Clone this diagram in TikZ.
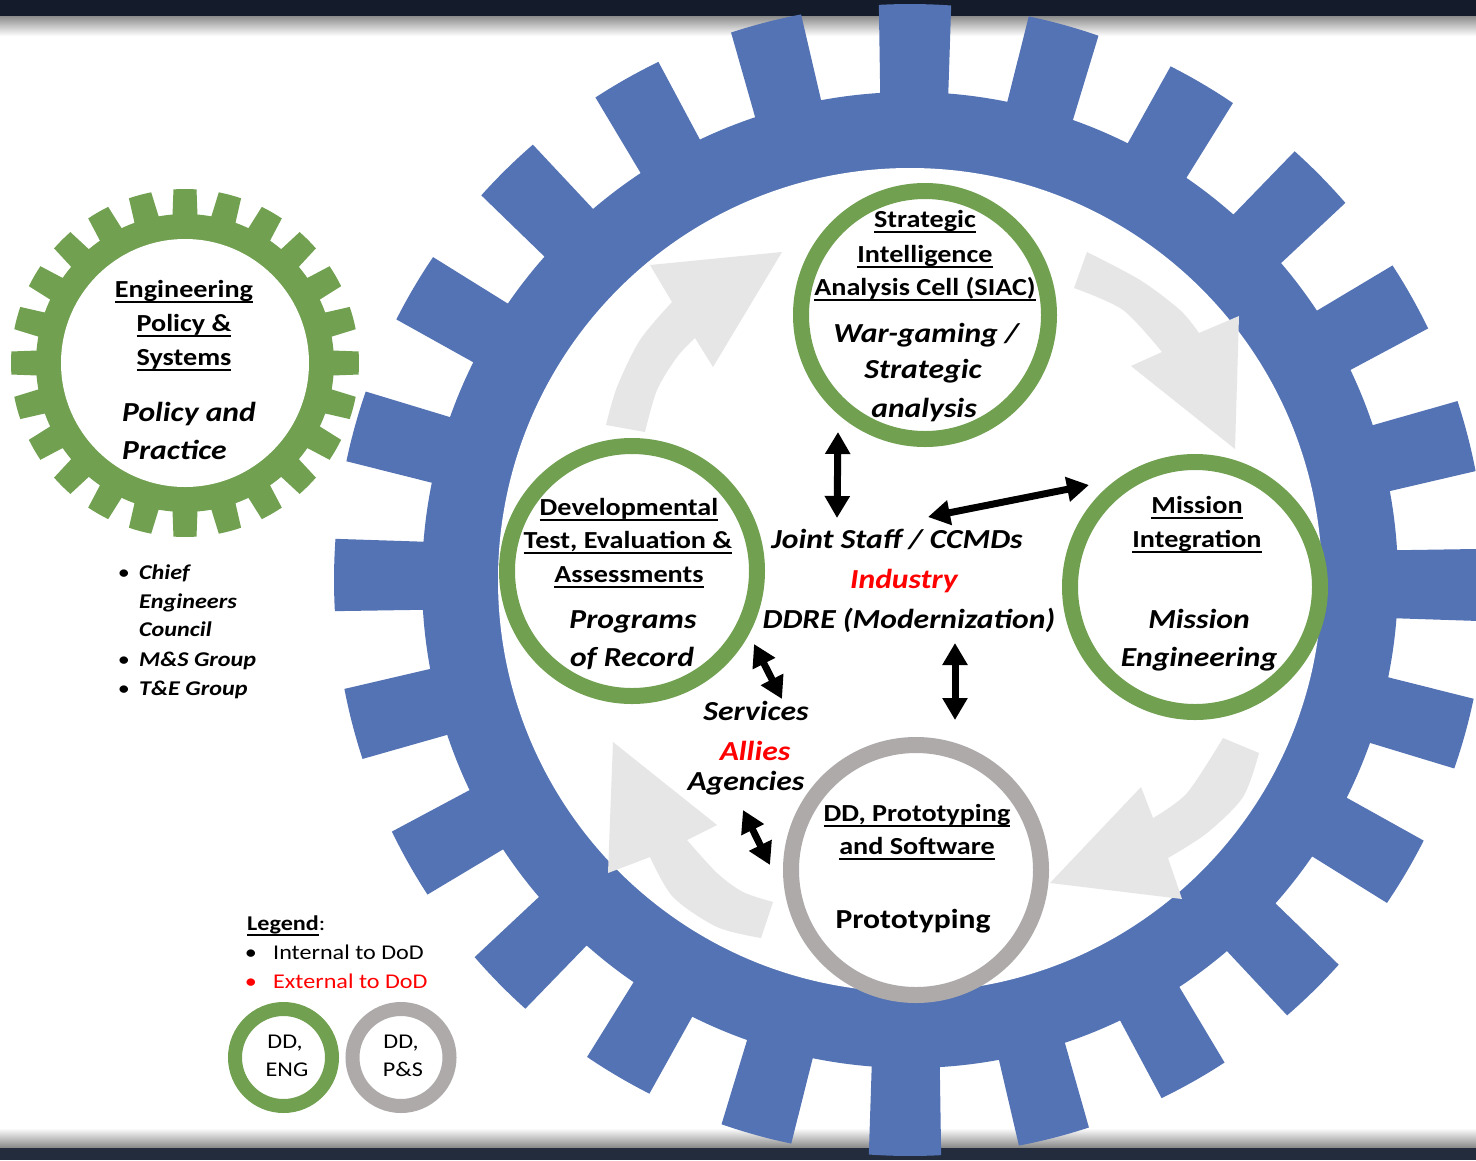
\documentclass[tikz,border=0pt]{standalone}
\usepackage{fontspec}
\setmainfont{Carlito}[FakeStretch=1.15]
\usetikzlibrary{arrows.meta}
\definecolor{gearblue}{RGB}{84,115,180}
\definecolor{ggreen}{RGB}{112,160,80}
\definecolor{ringgray}{RGB}{174,170,170}
\definecolor{lightarr}{RGB}{230,230,230}
\definecolor{bandtop}{RGB}{20,27,42}
\definecolor{bandbot}{RGB}{34,44,60}
\newcommand\ulin[1]{\leavevmode\setbox0=\hbox{#1}\rlap{\rule[-5.5pt]{\wd0}{1.8pt}}\box0}
\tikzset{
  ring/.style={circle, minimum size=#1, inner sep=0pt, line width=16pt},
  hd/.style={font=\fontsize{24.5}{29}\selectfont\bfseries, anchor=base, inner sep=0pt},
  bi/.style={font=\fontsize{27.5}{33}\selectfont\bfseries\itshape, anchor=base, inner sep=0pt},
  bu/.style={font=\fontsize{27.5}{33}\selectfont\bfseries, anchor=base, inner sep=0pt},
  sm/.style={font=\fontsize{21}{25}\selectfont\bfseries\itshape, anchor=base west, inner sep=0pt},
  lg/.style={font=\fontsize{21}{25}\selectfont, anchor=base west, inner sep=0pt},
  lgc/.style={font=\fontsize{21}{25}\selectfont, anchor=base, inner sep=0pt},
  bul/.style={font=\fontsize{21}{25}\selectfont, anchor=base, inner sep=0pt},
  dbl/.style={line width=7pt, {Triangle[width=24pt,length=22pt]}-{Triangle[width=24pt,length=22pt]}},
  blockarr/.style={fill=lightarr}
}
\begin{document}
\begin{tikzpicture}[x=1pt,y=-1pt]
\useasboundingbox (0,0) rectangle (1476,1160);
\clip (0,0) rectangle (1476,1160);
% background
\fill[white] (0,0) rectangle (1476,1160);
\fill[bandtop] (0,0) rectangle (1476,16);
\shade[top color=black!45, bottom color=white] (0,16) rectangle (1476,36);
\fill[bandbot] (0,1147) rectangle (1476,1160);
\shade[top color=white, bottom color=black!45] (0,1128) rectangle (1476,1147);

% big blue gear
\begin{scope}[shift={(910,580)}]
\fill[gearblue] (85.5:488pt) \foreach \k in {0,...,23}{
  -- ({89.5+15*\k-3.6}:576pt) arc[start angle={89.5+15*\k-3.6}, end angle={89.5+15*\k+3.6}, radius=576pt]
  -- ({89.5+15*\k+4}:488pt) arc[start angle={89.5+15*\k+4}, end angle={89.5+15*\k+11}, radius=488pt]} -- cycle;
\fill[white] (0,0) circle[radius=412pt];
\end{scope}

% small green gear
\begin{scope}[shift={(185,363)}]
\fill[ggreen] (85.2:149pt) \foreach \k in {0,...,23}{
  -- ({90+15*\k-3.8}:174pt) arc[start angle={90+15*\k-3.8}, end angle={90+15*\k+3.8}, radius=174pt]
  -- ({90+15*\k+4.8}:149pt) arc[start angle={90+15*\k+4.8}, end angle={90+15*\k+10.2}, radius=149pt]} -- cycle;
\fill[white] (0,0) circle[radius=124pt];
\end{scope}

% light grey cycle arrows
\fill[blockarr] (606,425) -- plot[smooth] coordinates {(606,425) (617,387) (640,340) (672,302)}
  -- (650,265) -- (782,252) -- (713,367) -- (695,338)
  -- plot[smooth] coordinates {(695,338) (677,357) (657,390) (645,432)} -- cycle;
\fill[blockarr] (1087,252) -- plot[smooth] coordinates {(1087,252) (1140,280) (1180,310) (1199,333)}
  -- (1239,316) -- (1235,449) -- (1131,366) -- (1162,352)
  -- plot[smooth] coordinates {(1162,352) (1123,310) (1074,288)} -- cycle;
\fill[blockarr] (1259,753) -- plot[smooth] coordinates {(1259,753) (1243,797) (1207,833) (1168,858)}
  -- (1182,899) -- (1050,883) -- (1141,787) -- (1153,818)
  -- plot[smooth] coordinates {(1153,818) (1187,793) (1223,738)} -- cycle;
\fill[blockarr] (761,938) -- plot[smooth] coordinates {(761,938) (717,927) (673,897) (650,857)}
  -- (608,873) -- (613,742) -- (717,825) -- (687,840)
  -- plot[smooth] coordinates {(687,840) (717,873) (743,892) (773,902)} -- cycle;

% rings
\node[ring=248pt, draw=ggreen] (siac) at (925,315) {};
\node[ring=250pt, draw=ggreen] (dev) at (632,571) {};
\node[ring=250pt, draw=ggreen] (mis) at (1195,587) {};
\node[ring=250pt, draw=ringgray] (proto) at (916,870) {};

% green gear texts
\node[hd] (eg1) at (184,297) {\ulin{Engineering}};
\node[hd] (eg2) at (184,331) {\ulin{Policy \&}};
\node[hd] (eg3) at (184,365) {\ulin{Systems}};
\node[bi, anchor=base west] (eg4) at (122,421) {Policy and};
\node[bi, anchor=base west] (eg5) at (122,459) {Practice};

% bullet list
\node[bul] (b1) at (124,579) {•};
\node[sm] (l1) at (139,579) {Chief};
\node[sm] (l2) at (139,608) {Engineers};
\node[sm] (l3) at (139,636) {Council};
\node[bul] (b2) at (124,666) {•};
\node[sm] (l4) at (139,666) {M\&S Group};
\node[bul] (b3) at (124,695) {•};
\node[sm] (l5) at (139,695) {T\&E Group};

% SIAC texts
\node[hd] (s1) at (925,227) {\ulin{Strategic}};
\node[hd] (s2) at (925,262) {\ulin{Intelligence}};
\node[hd] (s3) at (925,295) {\ulin{Analysis Cell (SIAC)}};
\node[bi] (s4) at (926,342) {War-gaming /};
\node[bi] (s5) at (923,378) {Strategic};
\node[bi] (s6) at (924,417) {analysis};

% Developmental texts
\node[hd] (d1) at (629,515) {\ulin{Developmental}};
\node[hd] (d2) at (628,548) {\ulin{Test, Evaluation \&}};
\node[hd] (d3) at (629,582) {\ulin{Assessments}};
\node[bi] (d4) at (633,628) {Programs};
\node[bi] (d5) at (632,666) {of Record};

% Mission texts
\node[hd] (m1) at (1197,513) {\ulin{Mission}};
\node[hd] (m2) at (1197,547) {\ulin{Integration}};
\node[bi] (m3) at (1199,628) {Mission};
\node[bi] (m4) at (1199,666) {Engineering};

% Prototyping texts
\node[hd] (p1) at (917,821) {\ulin{DD, Prototyping}};
\node[hd] (p2) at (917,854) {\ulin{and Software}};
\node[bu] (p3) at (913,928) {Prototyping};

% centre texts
\node[bi] (joint) at (897,548) {Joint Staff / CCMDs};
\node[bi, text=red] (industry) at (904,588) {Industry};
\node[bi] (ddre) at (909,628) {DDRE (Modernization)};
\node[bi] (serv) at (756,720) {Services};
\node[bi, text=red] (allies) at (755,760) {Allies};
\node[bi] (agen) at (746,790) {Agencies};

% black double arrows
\coordinate (a1s) at (838,432); \coordinate (a1e) at (837,518);
\coordinate (a2s) at (928,517); \coordinate (a2e) at (1089,485);
\coordinate (a3s) at (955,643); \coordinate (a3e) at (955,720);
\coordinate (a4s) at (754,644); \coordinate (a4e) at (782,699);
\coordinate (a5s) at (743,810); \coordinate (a5e) at (770,865);
\draw[dbl] (a1s) -- (a1e);
\draw[dbl] (a2s) -- (a2e);
\draw[dbl] (a3s) -- (a3e);
\draw[dbl] (a4s) -- (a4e);
\draw[dbl] (a5s) -- (a5e);

% legend
\node[lg] (leg) at (247,930) {{\bfseries\ulin{Legend}}:};
\node[bul] (lb1) at (251,959) {•};
\node[lg] (li1) at (273,959) {Internal to DoD};
\node[bul, text=red] (lb2) at (251,988) {•};
\node[lg, text=red] (li2) at (273,988) {External to DoD};
\node[circle, minimum size=97pt, inner sep=0pt, line width=14pt, draw=ggreen] (lgreen) at (283.5,1057.5) {};
\node[circle, minimum size=97pt, inner sep=0pt, line width=14pt, draw=ringgray] (lgray) at (401,1057.5) {};
\node[lgc] (lt1) at (285,1048) {DD,};
\node[lgc] (lt2) at (287,1076) {ENG};
\node[lgc] (lt3) at (401,1048) {DD,};
\node[lgc] (lt4) at (403,1076) {P\&S};
\end{tikzpicture}
\end{document}
